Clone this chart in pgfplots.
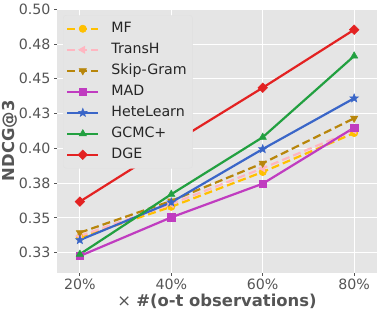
\documentclass[border=0pt]{standalone}
\usepackage{fontspec}
\setmainfont{DejaVu Sans}
\usepackage{pgfplots}
\pgfplotsset{compat=1.18}
\usetikzlibrary{plotmarks}
\definecolor{bggray}{HTML}{E5E5E5}
\definecolor{tickgray}{HTML}{555555}
\definecolor{cMF}{HTML}{FFC000}
\definecolor{cTransH}{HTML}{FFB6C1}
\definecolor{cSkip}{HTML}{B8860B}
\definecolor{cMAD}{HTML}{C03CC0}
\definecolor{cHete}{HTML}{3A66C8}
\definecolor{cGCMC}{HTML}{22A040}
\definecolor{cDGE}{HTML}{E32222}
\pgfdeclareplotmark{fstar}{%
 \pgfpathmoveto{\pgfpointpolar{90}{\pgfplotmarksize}}%
 \pgfpathlineto{\pgfpointpolar{126}{0.42\pgfplotmarksize}}%
 \pgfpathlineto{\pgfpointpolar{162}{\pgfplotmarksize}}%
 \pgfpathlineto{\pgfpointpolar{198}{0.42\pgfplotmarksize}}%
 \pgfpathlineto{\pgfpointpolar{234}{\pgfplotmarksize}}%
 \pgfpathlineto{\pgfpointpolar{270}{0.42\pgfplotmarksize}}%
 \pgfpathlineto{\pgfpointpolar{306}{\pgfplotmarksize}}%
 \pgfpathlineto{\pgfpointpolar{342}{0.42\pgfplotmarksize}}%
 \pgfpathlineto{\pgfpointpolar{18}{\pgfplotmarksize}}%
 \pgfpathlineto{\pgfpointpolar{54}{0.42\pgfplotmarksize}}%
 \pgfpathclose\pgfusepathqfillstroke}
\begin{document}
\begin{tikzpicture}
\begin{axis}[
  at={(0,0)}, anchor=south west,
  scale only axis, width=320pt, height=263.7pt,
  xmin=15, xmax=85, ymin=0.3106, ymax=0.5002,
  xtick={20,40,60,80}, xticklabels={20\%,40\%,60\%,80\%},
  ytick={0.325,0.35,0.375,0.4,0.425,0.45,0.475,0.5},
  yticklabels={0.33,0.35,0.38,0.40,0.43,0.45,0.48,0.50},
  axis background/.style={fill=bggray},
  axis line style={draw=none},
  grid=major, grid style={white, line width=0.9pt},
  tick align=outside, major tick length=3pt,
  tick style={tickgray, line width=0.8pt},
  xtick pos=bottom, ytick pos=left,
  tick label style={font=\fontsize{14.2}{16}\selectfont, text=tickgray},
  xlabel={{\mdseries ×} \textbf{\#(o-t observations)}},
  ylabel={\textbf{NDCG@3}},
  label style={font=\fontsize{16.4}{18}\selectfont, text=tickgray},
  xlabel style={at={(axis description cs:0.5,-0.11)}, anchor=center},
  ylabel style={at={(axis description cs:-0.147,0.5)}, anchor=center},
  legend style={at={(axis description cs:0.0188,0.977)}, anchor=north west,
    draw=black!12, fill=bggray, rounded corners=3pt,
    font=\fontsize{14.2}{16}\selectfont, text=black!85,
    inner xsep=3pt, inner ysep=3pt, row sep=0pt,
    nodes={inner xsep=3pt, inner ysep=3.75pt, text height=10pt, text depth=3.5pt},
    /tikz/every odd column/.append style={column sep=9pt}},
  legend cell align=left,
  legend image code/.code={\draw[mark repeat=2,mark phase=2] plot coordinates {(0pt,0pt)(15.5pt,0pt)(31pt,0pt)};},
  every axis plot/.append style={line width=2.2pt},
]
\addplot[cMF, dash pattern=on 8pt off 4pt, mark=*, mark size=3.7pt, mark options={solid, line width=0.5pt, fill=cMF}]
  coordinates {(20,0.336)(40,0.358)(60,0.383)(80,0.411)};
\addlegendentry{MF}
\addplot[cTransH, dash pattern=on 8pt off 4pt, mark=triangle*, mark size=4.2pt, mark options={solid, rotate=90, line width=0.5pt, fill=cTransH}]
  coordinates {(20,0.337)(40,0.360)(60,0.3857)(80,0.413)};
\addlegendentry{TransH}
\addplot[cSkip, dash pattern=on 8pt off 4pt, mark=triangle*, mark size=4.2pt, mark options={solid, rotate=180, line width=0.5pt, fill=cSkip}]
  coordinates {(20,0.3394)(40,0.3622)(60,0.3893)(80,0.4216)};
\addlegendentry{Skip-Gram}
\addplot[cMAD, mark=square*, mark size=3.7pt, mark options={solid, line width=0.5pt, fill=cMAD}]
  coordinates {(20,0.3226)(40,0.3504)(60,0.3746)(80,0.4149)};
\addlegendentry{MAD}
\addplot[cHete, mark=fstar, mark size=4.5pt, mark options={solid, line width=0.5pt, fill=cHete}]
  coordinates {(20,0.3341)(40,0.3612)(60,0.3995)(80,0.436)};
\addlegendentry{HeteLearn}
\addplot[cGCMC, mark=triangle*, mark size=4.2pt, mark options={solid, line width=0.5pt, fill=cGCMC}]
  coordinates {(20,0.3239)(40,0.367)(60,0.408)(80,0.4664)};
\addlegendentry{GCMC+}
\addplot[cDGE, mark=square*, mark size=3.4pt, mark options={solid, rotate=45, line width=0.5pt, fill=cDGE}]
  coordinates {(20,0.3617)(40,0.4031)(60,0.4436)(80,0.4853)};
\addlegendentry{DGE}
\end{axis}
\pgfresetboundingbox
\useasboundingbox (-57pt,-39.3pt) rectangle (325pt,272.7pt);
\end{tikzpicture}
\end{document}
